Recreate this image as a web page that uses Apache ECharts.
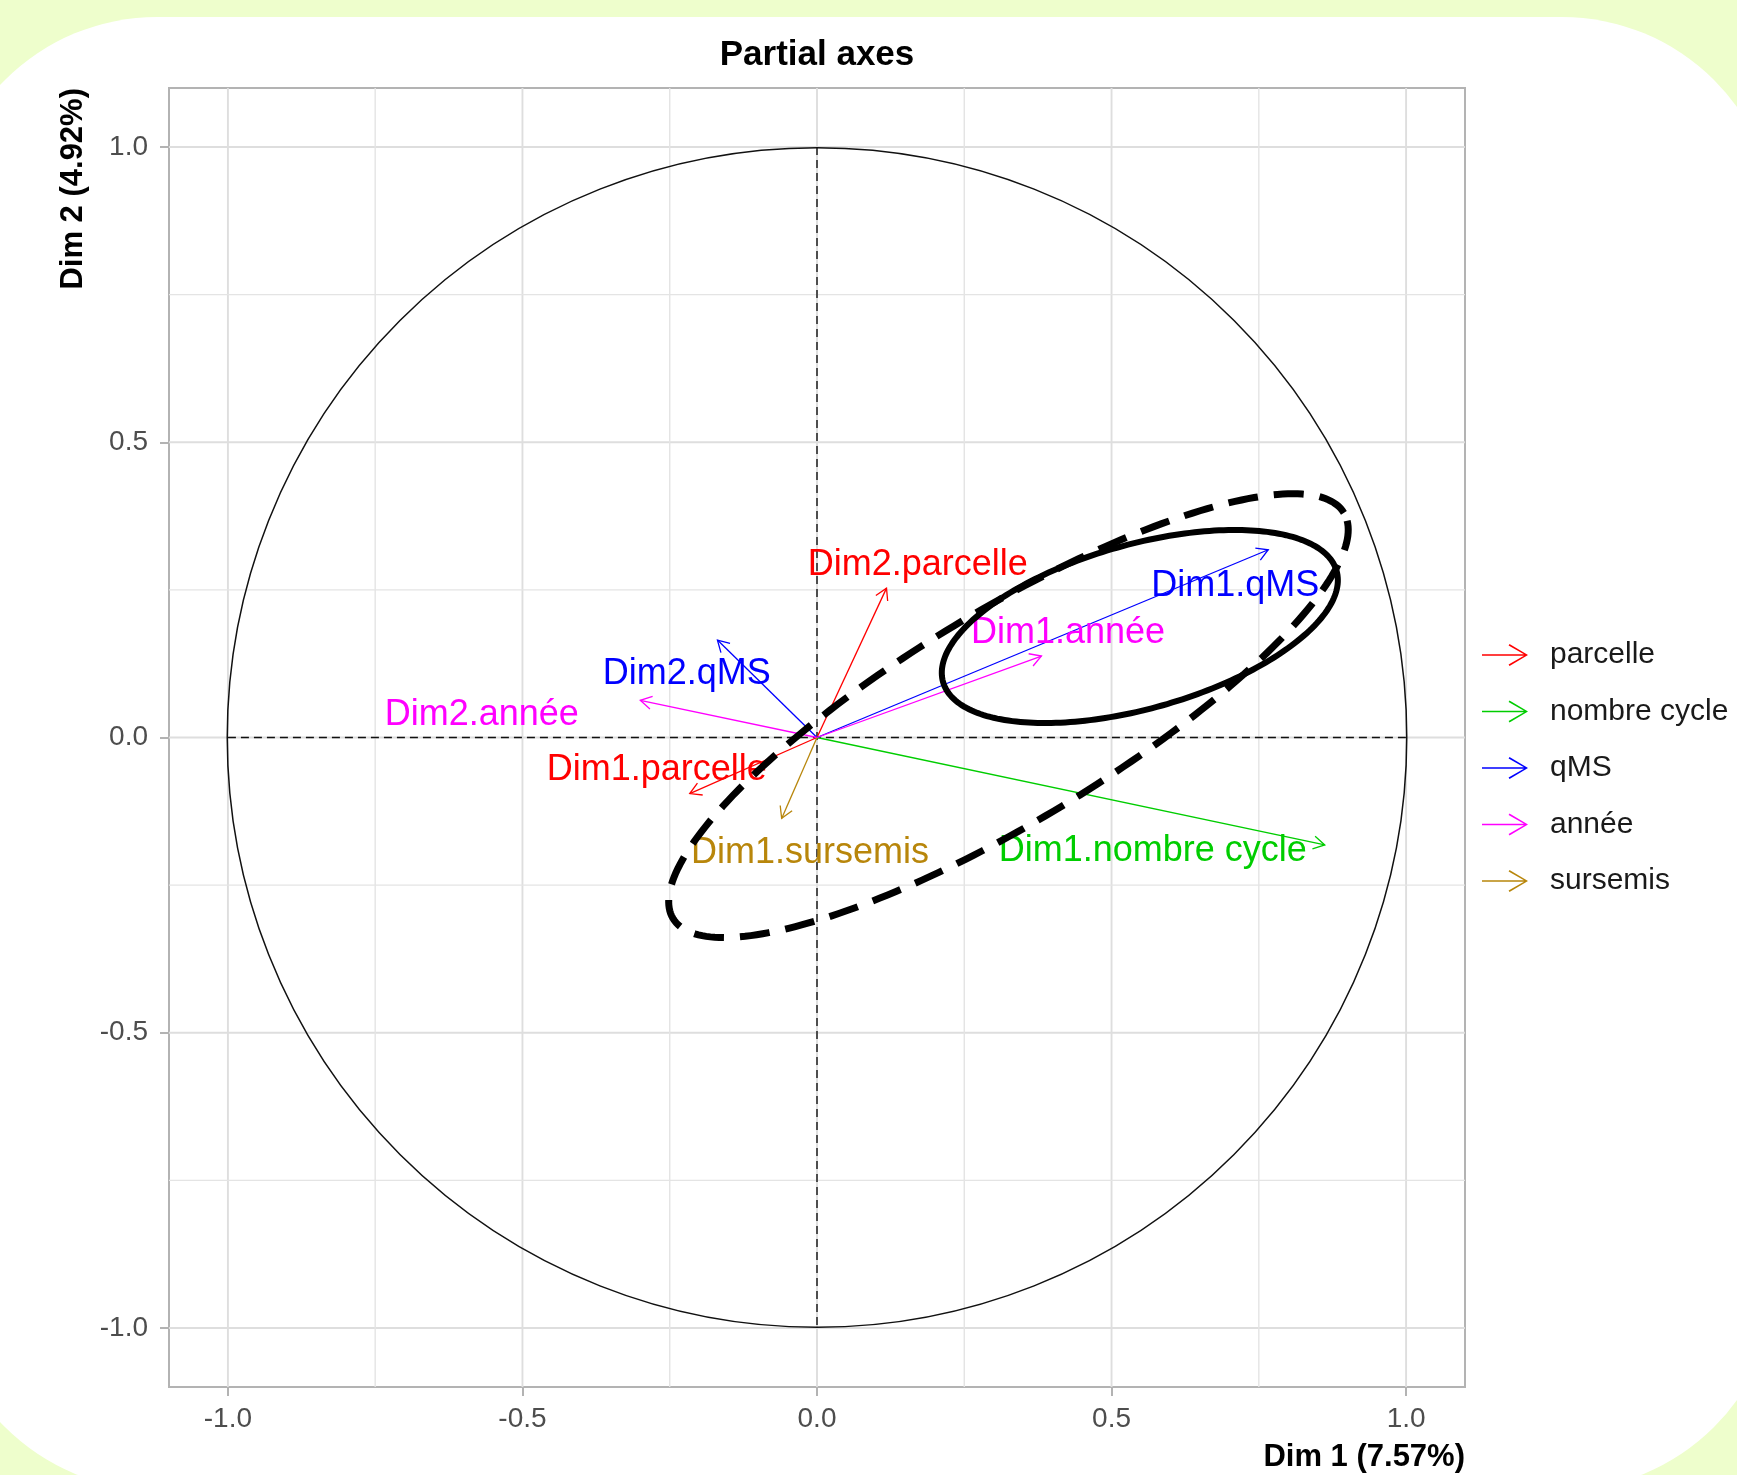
<!DOCTYPE html>
<html>
<head>
<meta charset="utf-8">
<script src="https://cdn.jsdelivr.net/npm/echarts@6/dist/echarts.min.js"></script>
<style>
html,body{margin:0;padding:0;background:#EEFECC;}
#chart{width:1737px;height:1475px;}
</style>
</head>
<body>
<div id="chart"></div>
<script>
// ---------------- DATA ----------------
const groups = ['parcelle', 'nombre cycle', 'qMS', 'année', 'sursemis'];

const arrowNames  = ['Dim1.parcelle', 'Dim2.parcelle', 'Dim1.nombre cycle', 'Dim1.qMS', 'Dim2.qMS', 'Dim1.année', 'Dim2.année', 'Dim1.sursemis'];
const arrowGroups = ['parcelle', 'parcelle', 'nombre cycle', 'qMS', 'qMS', 'année', 'année', 'sursemis'];
const arrowX      = [-0.216, 0.118, 0.862, 0.766, -0.169, 0.381, -0.300, -0.060];
const arrowY      = [-0.095, 0.253, -0.182, 0.318, 0.165, 0.138, 0.063, -0.137];
// label anchor points (data units)
const labelX      = [-0.272, 0.171, 0.570, 0.710, -0.221, 0.426, -0.569, -0.012];
const labelY      = [-0.055, 0.292, -0.192, 0.257, 0.108, 0.177, 0.038, -0.196];

const tickValues  = [-1.0, -0.5, 0.0, 0.5, 1.0];
const minorValues = [-0.75, -0.25, 0.25, 0.75];
const axisMin = -1.1, axisMax = 1.1;

// hand-drawn annotation ellipses (data units, angle in degrees)
const ellipseCX    = [0.548, 0.325];
const ellipseCY    = [0.188, 0.037];
const ellipseA     = [0.347, 0.665];
const ellipseB     = [0.139, 0.178];
const ellipseAngle = [15.7, 31.1];

const titleText = 'Partial axes';
const xTitle = 'Dim 1 (7.57%)';
const yTitle = 'Dim 2 (4.92%)';

// ---------------- STYLE ----------------
const groupColors = {
  'parcelle': '#FF0000',
  'nombre cycle': '#00CD00',
  'qMS': '#0000FF',
  'année': '#FF00FF',
  'sursemis': '#B8860B'
};
const ellipseStyles = [
  { lineWidth: 6, lineDash: null },
  { lineWidth: 7, lineDash: [30, 16] }
];
const FONT = '"Liberation Sans", Arial, sans-serif';

// ---------------- BUILD ----------------
const chart = echarts.init(document.getElementById('chart'), null, { renderer: 'canvas' });

function measure(text, font) {
  const c = document.createElement('canvas').getContext('2d');
  c.font = font;
  return c.measureText(text).width;
}
const titleW = measure(titleText, 'bold 35px ' + FONT);

const gridLeft = 169, gridTop = 88, gridW = 1296, gridH = 1299;
const panelCenterX = gridLeft + gridW / 2;

function gridRender(params, api) {
  const v = api.value(0);
  const major = api.value(1) === 1;
  const a = api.coord([v, axisMin]), b = api.coord([v, axisMax]);
  const c = api.coord([axisMin, v]), d = api.coord([axisMax, v]);
  const st = { stroke: major ? '#dedede' : '#e4e4e4', lineWidth: major ? 1.9 : 1.4 };
  return { type: 'group', children: [
    { type: 'line', shape: { x1: a[0], y1: a[1], x2: b[0], y2: b[1] }, style: st },
    { type: 'line', shape: { x1: c[0], y1: c[1], x2: d[0], y2: d[1] }, style: st }
  ]};
}
const gridData = tickValues.map(v => [v, 1]).concat(minorValues.map(v => [v, 0]));

function frameRender(params, api) {
  const r = api.value(2);
  const o = api.coord([0, 0]);
  const s = api.size([r, r]);
  const l = api.coord([-r, 0]), rr = api.coord([r, 0]);
  const t = api.coord([0, r]), bt = api.coord([0, -r]);
  const dash = { stroke: '#111', lineWidth: 1.4, lineDash: [8, 5] };
  return { type: 'group', children: [
    { type: 'circle', shape: { cx: o[0], cy: o[1], r: (s[0] + s[1]) / 2 }, style: { fill: null, stroke: '#111', lineWidth: 1.5 } },
    { type: 'line', shape: { x1: l[0], y1: l[1], x2: rr[0], y2: rr[1] }, style: dash },
    { type: 'line', shape: { x1: t[0], y1: t[1], x2: bt[0], y2: bt[1] }, style: dash }
  ]};
}

function makeArrowRender(names, color) {
  return function (params, api) {
    const x = api.value(0), y = api.value(1), lx = api.value(2), ly = api.value(3);
    const o = api.coord([0, 0]), t = api.coord([x, y]), lp = api.coord([lx, ly]);
    const ang = Math.atan2(t[1] - o[1], t[0] - o[0]);
    const hl = 13, ha = Math.PI / 6;
    const p1 = [t[0] - hl * Math.cos(ang - ha), t[1] - hl * Math.sin(ang - ha)];
    const p2 = [t[0] - hl * Math.cos(ang + ha), t[1] - hl * Math.sin(ang + ha)];
    return { type: 'group', children: [
      { type: 'line', shape: { x1: o[0], y1: o[1], x2: t[0], y2: t[1] }, style: { stroke: color, lineWidth: 1.3 } },
      { type: 'polyline', shape: { points: [p1, t, p2] }, style: { stroke: color, lineWidth: 1.3, fill: null } },
      { type: 'text', x: lp[0], y: lp[1], style: { text: names[params.dataIndex], fill: color, font: '36px ' + FONT, align: 'center', verticalAlign: 'middle' } }
    ]};
  };
}

function ellipseRender(params, api) {
  const cx = api.value(0), cy = api.value(1), a = api.value(2), b = api.value(3);
  const th = api.value(4) * Math.PI / 180;
  const pts = [];
  const n = 240;
  for (let k = 0; k < n; k++) {
    const t = 2 * Math.PI * k / n;
    const ex = a * Math.cos(t), ey = b * Math.sin(t);
    pts.push(api.coord([cx + ex * Math.cos(th) - ey * Math.sin(th), cy + ex * Math.sin(th) + ey * Math.cos(th)]));
  }
  const st = ellipseStyles[params.dataIndex];
  return { type: 'polygon', shape: { points: pts }, style: { fill: null, stroke: '#000', lineWidth: st.lineWidth, lineDash: st.lineDash } };
}

const series = [];
series.push({
  name: 'grid', type: 'custom', renderItem: gridRender, data: gridData,
  encode: { x: 0, y: 0 }, silent: true, z: 1
});
series.push({
  name: 'frame', type: 'custom', renderItem: frameRender, data: [[0, 0, 1]],
  encode: { x: 0, y: 1 }, silent: true, z: 2
});
groups.forEach(g => {
  const idx = arrowGroups.map((gg, i) => gg === g ? i : -1).filter(i => i >= 0);
  const names = idx.map(i => arrowNames[i]);
  series.push({
    name: g, type: 'custom', renderItem: makeArrowRender(names, groupColors[g]),
    itemStyle: { color: groupColors[g] },
    data: idx.map(i => [arrowX[i], arrowY[i], labelX[i], labelY[i]]),
    encode: { x: 0, y: 1 }, z: 3
  });
});
series.push({
  name: 'ellipses', type: 'custom', renderItem: ellipseRender,
  data: ellipseCX.map((c, i) => [c, ellipseCY[i], ellipseA[i], ellipseB[i], ellipseAngle[i]]),
  encode: { x: 0, y: 1 }, silent: true, z: 5
});

const arrowIcon = 'path://M0,10.2L45,10.2L45,11.8L0,11.8Z M27.5,0L46,11L27.5,22L26.6,20.6L43.3,11L26.6,1.4Z';

const axisCommon = {
  type: 'value', min: axisMin, max: axisMax,
  axisLine: { show: false, onZero: false },
  splitLine: { show: false },
  axisTick: { show: true, customValues: tickValues, length: 9, lineStyle: { color: '#b3b3b3', width: 2 } },
  axisLabel: { customValues: tickValues, color: '#4d4d4d', fontSize: 28, fontFamily: FONT, formatter: v => v.toFixed(1) },
  nameMoveOverlap: false
};

const option = {
  backgroundColor: '#EEFECC',
  animation: false,
  graphic: [{
    type: 'rect', z: -100, silent: true,
    shape: { x: -58, y: 17, width: 1835, height: 1473, r: 215 },
    style: { fill: '#ffffff' }
  }],
  title: {
    text: titleText, left: panelCenterX - titleW / 2, top: 38, padding: 0,
    textStyle: { fontSize: 35, fontWeight: 'bold', color: '#000', fontFamily: FONT }
  },
  legend: {
    orient: 'vertical', left: 1482, top: 640, padding: 0,
    itemWidth: 46, itemHeight: 22, itemGap: 26.5, selectedMode: false,
    data: groups.map(g => ({ name: g, icon: arrowIcon })),
    textStyle: { fontSize: 30, color: '#1a1a1a', fontFamily: FONT, lineHeight: 30, padding: [0, 0, 0, 17] }
  },
  grid: {
    left: gridLeft, top: gridTop, width: gridW, height: gridH,
    show: true, backgroundColor: '#ffffff', borderColor: '#b3b3b3', borderWidth: 2,
    outerBoundsMode: 'none', containLabel: false
  },
  xAxis: Object.assign({}, axisCommon, {
    axisLabel: Object.assign({}, axisCommon.axisLabel, { margin: 18 }),
    name: xTitle, nameLocation: 'end', nameGap: 0,
    nameTextStyle: { fontSize: 31, fontWeight: 'bold', color: '#000', fontFamily: FONT, align: 'right', verticalAlign: 'top', padding: [55, 0, 0, 0] }
  }),
  yAxis: Object.assign({}, axisCommon, {
    axisLabel: Object.assign({}, axisCommon.axisLabel, { margin: 21 }),
    name: yTitle, nameLocation: 'end', nameGap: 0, nameRotate: 90,
    nameTextStyle: { fontSize: 31, fontWeight: 'bold', color: '#000', fontFamily: FONT, align: 'right', verticalAlign: 'bottom', padding: [0, 0, 80, 0] }
  }),
  series: series
};
chart.setOption(option);
</script>
</body>
</html>
